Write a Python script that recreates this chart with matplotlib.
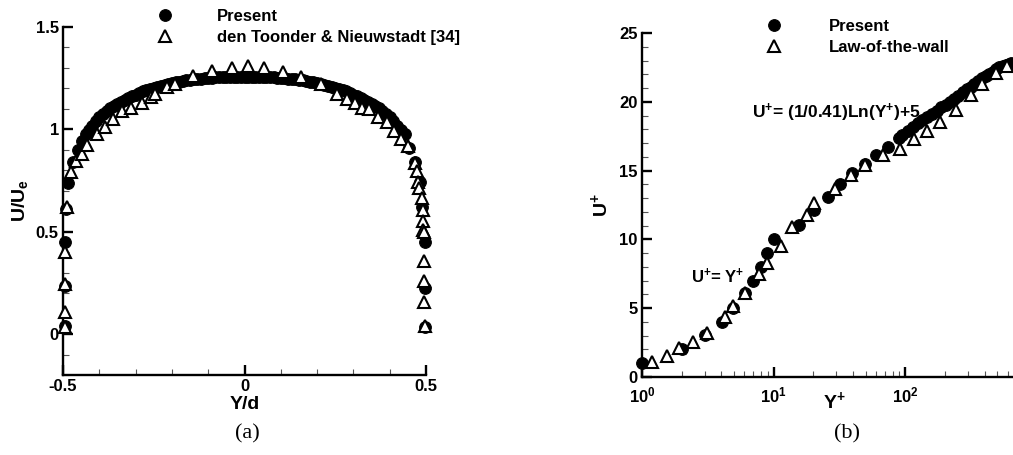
import numpy as np
import matplotlib
matplotlib.use("Agg")
import matplotlib.pyplot as plt
from matplotlib.ticker import MultipleLocator, LogLocator, NullFormatter, FixedLocator

plt.rcParams["font.family"] = ["Liberation Sans", "DejaVu Sans"]
plt.rcParams["font.weight"] = "bold"
plt.rcParams["axes.unicode_minus"] = False
plt.rcParams["mathtext.fontset"] = "custom"
plt.rcParams["mathtext.rm"] = "Liberation Sans:bold"
plt.rcParams["mathtext.it"] = "Liberation Sans:bold"
plt.rcParams["mathtext.bf"] = "Liberation Sans:bold"
plt.rcParams["mathtext.default"] = "rm"

# ---------------- (a) mean velocity across the pipe ----------------
present_yd = [-0.494, -0.494, -0.494, -0.492, -0.486, -0.472, -0.459, -0.447, -0.437,
              -0.428, -0.42, -0.41, -0.40, -0.39, -0.38, -0.37, -0.36, -0.35, -0.34,
              -0.33, -0.32, -0.31, -0.30, -0.29, -0.28, -0.27, -0.26, -0.25, -0.24,
              -0.23, -0.22, -0.21, -0.20, -0.19, -0.18, -0.17, -0.16, -0.15, -0.14,
              -0.13, -0.12, -0.11, -0.10, -0.09, -0.08, -0.07, -0.06, -0.05, -0.04,
              -0.03, -0.02, -0.01, 0.0, 0.01, 0.02, 0.03, 0.04, 0.05, 0.06, 0.07,
              0.08, 0.09, 0.10, 0.11, 0.12, 0.13, 0.14, 0.15, 0.16, 0.17, 0.18, 0.19,
              0.20, 0.21, 0.22, 0.23, 0.24, 0.25, 0.26, 0.27, 0.28, 0.29, 0.30, 0.31,
              0.32, 0.33, 0.34, 0.35, 0.36, 0.37, 0.38, 0.39, 0.40, 0.41, 0.42, 0.43,
              0.442, 0.453, 0.47, 0.483, 0.489, 0.497, 0.497, 0.497]
present_u = [0.04, 0.235, 0.45, 0.61, 0.74, 0.84, 0.90, 0.945, 0.975,
             0.995, 1.015, 1.04, 1.06, 1.075, 1.09, 1.103, 1.115, 1.125, 1.135,
             1.145, 1.155, 1.163, 1.17, 1.178, 1.185, 1.191, 1.197, 1.203, 1.208,
             1.213, 1.218, 1.222, 1.226, 1.23, 1.233, 1.236, 1.239, 1.242, 1.244,
             1.246, 1.248, 1.25, 1.251, 1.253, 1.254, 1.255, 1.256, 1.257, 1.257,
             1.258, 1.258, 1.258, 1.258, 1.258, 1.258, 1.258, 1.257, 1.257, 1.256,
             1.255, 1.254, 1.253, 1.251, 1.25, 1.248, 1.246, 1.244, 1.242, 1.239,
             1.236, 1.233, 1.23, 1.226, 1.222, 1.218, 1.213, 1.208, 1.203, 1.197,
             1.191, 1.185, 1.178, 1.17, 1.163, 1.155, 1.145, 1.135, 1.125, 1.115,
             1.103, 1.09, 1.075, 1.06, 1.04, 1.015, 0.995,
             0.975, 0.91, 0.84, 0.745, 0.62, 0.45, 0.225, 0.035]

toonder_yd = [-0.495, -0.495, -0.495, -0.495, -0.489, -0.478, -0.464, -0.448, -0.434,
              -0.407, -0.384, -0.362, -0.338, -0.313, -0.283, -0.258, -0.247, -0.213,
              -0.191, -0.141, -0.090, -0.035, 0.010, 0.054, 0.106, 0.156, 0.211,
              0.254, 0.282, 0.304, 0.323, 0.343, 0.368, 0.392, 0.412, 0.431, 0.45,
              0.470, 0.474, 0.479, 0.481, 0.488, 0.492, 0.492, 0.493, 0.494, 0.495,
              0.495, 0.495, 0.496]
toonder_u = [0.034, 0.11, 0.245, 0.40, 0.62, 0.79, 0.845, 0.88, 0.925,
             0.975, 1.013, 1.05, 1.09, 1.105, 1.13, 1.16, 1.175, 1.205,
             1.22, 1.26, 1.285, 1.30, 1.31, 1.30, 1.28, 1.255, 1.22,
             1.175, 1.15, 1.13, 1.105, 1.10, 1.06, 1.035, 0.99, 0.955, 0.917,
             0.838, 0.795, 0.745, 0.715, 0.667, 0.608, 0.55, 0.51, 0.50, 0.355,
             0.258, 0.157, 0.04]

# ---------------- (b) wall units ----------------
present_yplus = [1.0, 2.0, 3.0, 4.04, 4.95, 6.07, 6.95, 7.98, 8.97, 10.0, 15.7,
                 20.1, 25.8, 32.0, 39.3, 49.0, 59.8, 73.4, 89.5,
                 95, 105, 115, 125, 135, 147, 160, 173, 187, 202, 218, 235, 253,
                 272, 292, 313, 335, 358, 382, 407, 433, 460, 488, 517, 547, 578,
                 610, 640]
present_uplus = [1.0, 2.0, 3.05, 4.02, 4.99, 6.08, 7.0, 8.02, 9.03, 10.0, 11.05,
                 12.14, 13.1, 14.0, 14.8, 15.45, 16.1, 16.7, 17.35,
                 17.6, 17.9, 18.2, 18.45, 18.65, 18.9, 19.1, 19.35, 19.6, 19.8,
                 20.0, 20.2, 20.45, 20.7, 20.9, 21.1, 21.3, 21.5, 21.7, 21.85,
                 22.0, 22.2, 22.35, 22.5, 22.6, 22.7, 22.75, 22.8]

law_yplus = [1.185, 1.54, 1.92, 2.43, 3.1, 4.28, 4.89, 6.07, 7.8, 8.97, 11.3,
             13.7, 17.9, 20.1, 29.0, 38.6, 49.6, 67.6, 91.6, 115.7, 146, 184.6,
             244, 318, 383, 490, 593]
law_uplus = [1.11, 1.53, 2.08, 2.57, 3.17, 4.34, 5.16, 6.13, 7.46, 8.3, 9.52,
             10.92, 11.77, 12.67, 13.64, 14.68, 15.4, 16.13, 16.6, 17.27, 17.9,
             18.55, 19.4, 20.5, 21.3, 22.1, 22.6]

W, H = 1013, 455
fig = plt.figure(figsize=(W / 100, H / 100), dpi=100)


def px_axes(x0, y0, x1, y1):
    return fig.add_axes([x0 / W, 1 - y1 / H, (x1 - x0) / W, (y1 - y0) / H])


circle_kw = dict(marker="o", linestyle="none", markersize=8.4, markerfacecolor="black",
                 markeredgecolor="black", markeredgewidth=0.8)
tri_kw = dict(marker="^", linestyle="none", markersize=8.0, markerfacecolor="white",
              markeredgecolor="black", markeredgewidth=1.5)


def style_axes(ax):
    for side in ("top", "right"):
        ax.spines[side].set_visible(False)
    for side in ("left", "bottom"):
        ax.spines[side].set_linewidth(1.7)
    ax.tick_params(which="major", direction="in", length=7, width=1.7,
                   labelsize=12, pad=3)
    ax.tick_params(which="minor", direction="in", length=4.5, width=0.8,
                   color="#555555")
    for lab in ax.get_xticklabels() + ax.get_yticklabels():
        lab.set_fontweight("bold")


# panel (a)
ax1 = px_axes(63, 27, 426, 375)
ax1.plot(present_yd, present_u, clip_on=False, zorder=3, **circle_kw)
ax1.plot(toonder_yd, toonder_u, clip_on=False, zorder=4, **tri_kw)
ax1.set_xlim(-0.5, 0.5)
ax1.set_ylim(-0.2, 1.5)
ax1.set_xticks([-0.5, 0, 0.5])
ax1.set_xticklabels(["-0.5", "0", "0.5"])
ax1.set_yticks([0, 0.5, 1, 1.5])
ax1.set_yticklabels(["0", "0.5", "1", "1.5"])
ax1.xaxis.set_minor_locator(MultipleLocator(0.1))
ax1.yaxis.set_minor_locator(MultipleLocator(0.1))
style_axes(ax1)
ax1.set_xlabel("Y/d", fontsize=14, fontweight="bold", labelpad=1)
ax1.set_ylabel("U/U$_{e}$", fontsize=14, fontweight="bold", labelpad=4)

# panel (b)
ax2 = px_axes(642, 33, 1037, 377)
ax2.plot(present_yplus, present_uplus, clip_on=False, zorder=3, **circle_kw)
ax2.plot(law_yplus, law_uplus, clip_on=False, zorder=4, **tri_kw)
ax2.set_xscale("log")
ax2.set_xlim(1, 1000)
ax2.set_ylim(0, 25)
ax2.xaxis.set_major_locator(FixedLocator([1, 10, 100]))
ax2.xaxis.set_minor_locator(LogLocator(base=10, subs=np.arange(2, 10), numticks=20))
ax2.xaxis.set_minor_formatter(NullFormatter())
ax2.set_yticks([0, 5, 10, 15, 20, 25])
ax2.yaxis.set_minor_locator(MultipleLocator(1))
style_axes(ax2)
ax2.tick_params(axis="x", which="major", pad=6)
ax2.set_xlabel("Y$^{+}$", fontsize=14, fontweight="bold", va="center")
ax2.xaxis.set_label_coords((834 - 642) / 395, -(401 - 377) / 344)
ax2.set_ylabel("U$^{+}$", fontsize=14, fontweight="bold", labelpad=6)

ax2.text(6.9, 19.2, "U$^{+}$= (1/0.41)Ln(Y$^{+}$)+5", fontsize=12.5, fontweight="bold",
         ha="left", va="center")
ax2.text(2.35, 7.3, "U$^{+}$= Y$^{+}$", fontsize=12, fontweight="bold",
         ha="left", va="center")

# legends
h_c = plt.Line2D([], [], **circle_kw)
h_t = plt.Line2D([], [], **tri_kw)
fig.legend([h_c, h_t], ["Present", "den Toonder & Nieuwstadt [34]"],
           loc="upper left", bbox_to_anchor=(157 / W, 1 - 9 / H), frameon=False,
           handlelength=1.0, handletextpad=2.6, labelspacing=0.35,
           borderpad=0, borderaxespad=0, prop=dict(size=12, weight="bold"))
fig.legend([h_c, h_t], ["Present", "Law-of-the-wall"],
           loc="upper left", bbox_to_anchor=(766 / W, 1 - 19 / H), frameon=False,
           handlelength=1.0, handletextpad=2.75, labelspacing=0.35,
           borderpad=0, borderaxespad=0, prop=dict(size=12, weight="bold"))

# panel captions
fig.text(247 / W, 1 - 434 / H, "(a)", fontsize=16, family="Liberation Serif",
         fontweight="normal", ha="center", va="center")
fig.text(847 / W, 1 - 434 / H, "(b)", fontsize=16, family="Liberation Serif",
         fontweight="normal", ha="center", va="center")

fig.savefig("out.png", dpi=100)
